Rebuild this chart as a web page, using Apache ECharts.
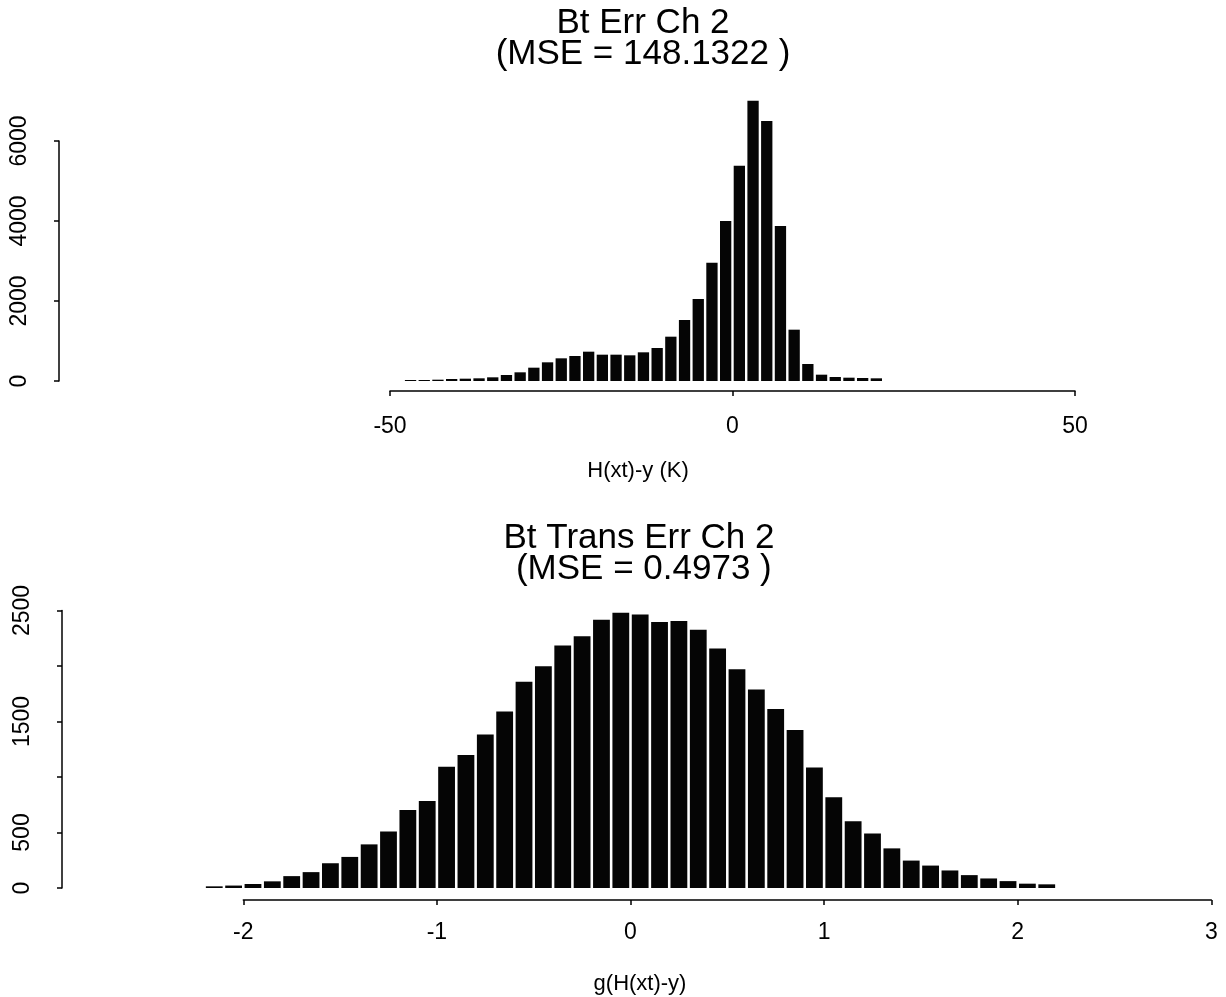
<!DOCTYPE html>
<html>
<head>
<meta charset="utf-8">
<script src="https://cdn.jsdelivr.net/npm/echarts@6/dist/echarts.min.js"></script>
<style>
html,body{margin:0;padding:0;background:#fff;}
#chart{width:1226px;height:997px;}
</style>
</head>
<body>
<div id="chart"></div>
<script>
// ---- Data ----
const topTitle = 'Bt Err Ch 2\n(MSE = 148.1322 )';
const topXName = 'H(xt)-y (K)';
const topBinCenters = [-47,-45,-43,-41,-39,-37,-35,-33,-31,-29,-27,-25,-23,-21,-19,-17,-15,-13,-11,-9,-7,-5,-3,-1,1,3,5,7,9,11,13,15,17,19,21];
const topCounts = [25,25,33,50,58,67,92,150,217,333,467,567,625,733,658,658,642,717,825,1108,1525,2050,2958,4000,5383,7008,6500,3875,1283,425,158,100,83,75,67];
const topXTicks = [-50, 0, 50];
const topYTicks = [0, 2000, 4000, 6000];

const botTitle = 'Bt Trans Err Ch 2\n (MSE = 0.4973 )';
const botXName = 'g(H(xt)-y)';
const botBinCenters = [-2.15,-2.05,-1.95,-1.85,-1.75,-1.65,-1.55,-1.45,-1.35,-1.25,-1.15,-1.05,-0.95,-0.85,-0.75,-0.65,-0.55,-0.45,-0.35,-0.25,-0.15,-0.05,0.05,0.15,0.25,0.35,0.45,0.55,0.65,0.75,0.85,0.95,1.05,1.15,1.25,1.35,1.45,1.55,1.65,1.75,1.85,1.95,2.05,2.15];
const botCounts = [15,22,36,60,107,143,223,280,393,509,702,783,1092,1199,1384,1589,1857,1997,2184,2268,2416,2479,2464,2396,2405,2327,2158,1970,1789,1613,1423,1086,818,601,491,357,247,202,158,116,86,62,39,33];
const botXTicks = [-2, -1, 0, 1, 2, 3];
const botYTickLabels = ['0', '500', '', '1500', '', '2500'];

// ---- Layout ----
const FONT = 'Liberation Sans, Arial, Helvetica, sans-serif';
// top panel
const T = {x0: 732.5, xs: 6.85, base: 381, ys: 0.04, xmin: -50, xmax: 50, ymax: 7200, yaxLeft: 59, yaxMax: 6000, axisOff: 10};
// bottom panel
const B = {x0: 630.5, xs: 193.6, base: 888, ys: 0.111, bxmin: -2.5, bxmax: 2.5, xmin: -2, xmax: 3, ymax: 2600, yaxLeft: 62, yaxMax: 2500, axisOff: 12};

function gridFor(x0, xs, xmin, xmax, base, ys, ymax) {
  const left = x0 + xmin * xs;
  const width = (xmax - xmin) * xs;
  const height = ymax * ys;
  return {left: left, width: width, top: base - height, height: height};
}

const grids = [
  gridFor(T.x0, T.xs, T.xmin, T.xmax, T.base, T.ys, T.ymax),          // 0 top bars + x axis
  {left: T.yaxLeft, width: 10, top: T.base - T.yaxMax * T.ys, height: T.yaxMax * T.ys}, // 1 top y axis
  gridFor(B.x0, B.xs, B.bxmin, B.bxmax, B.base, B.ys, B.ymax),        // 2 bottom bars
  gridFor(B.x0, B.xs, B.xmin, B.xmax, B.base, B.ys, B.ymax),          // 3 bottom x axis
  {left: B.yaxLeft, width: 10, top: B.base - B.yaxMax * B.ys, height: B.yaxMax * B.ys}  // 4 bottom y axis
];

const axisLineStyle = {color: '#000', width: 1.5};
const titleStyle = {fontFamily: FONT, fontWeight: 'normal', fontSize: 35, lineHeight: 31, color: '#000'};
const nameStyle = {fontFamily: FONT, fontWeight: 'normal', fontSize: 22, color: '#000'};

const option = {
  animation: false,
  backgroundColor: '#fff',
  title: [
    {text: topTitle, left: 638, top: 3, textAlign: 'center', textStyle: titleStyle},
    {text: botTitle, left: 634, top: 518, textAlign: 'center', textStyle: titleStyle},
    {text: topXName, left: 638, top: 460, textAlign: 'center', padding: 0, textStyle: nameStyle},
    {text: botXName, left: 640, top: 973, textAlign: 'center', padding: 0, textStyle: nameStyle}
  ],
  grid: grids,
  xAxis: [
    {gridIndex: 0, type: 'value', min: T.xmin, max: T.xmax, interval: 50, offset: T.axisOff,
     axisLine: {show: true, onZero: false, lineStyle: axisLineStyle},
     axisTick: {show: true, length: 5, lineStyle: axisLineStyle},
     axisLabel: {show: true, margin: 24, fontFamily: FONT, fontSize: 23, color: '#000',
       formatter: v => (topXTicks.indexOf(v) >= 0 ? String(v) : '')},
     splitLine: {show: false}},
    {gridIndex: 1, type: 'value', show: false},
    {gridIndex: 2, type: 'value', min: B.bxmin, max: B.bxmax, show: false},
    {gridIndex: 3, type: 'value', min: B.xmin, max: B.xmax, interval: 1, offset: B.axisOff,
     axisLine: {show: true, onZero: false, lineStyle: axisLineStyle},
     axisTick: {show: true, length: 5, lineStyle: axisLineStyle},
     axisLabel: {show: true, margin: 21, fontFamily: FONT, fontSize: 23, color: '#000',
       formatter: v => (botXTicks.indexOf(v) >= 0 ? String(v) : '')},
     splitLine: {show: false}},
    {gridIndex: 4, type: 'value', show: false}
  ],
  yAxis: [
    {gridIndex: 0, type: 'value', min: 0, max: T.ymax, show: false},
    {gridIndex: 1, type: 'value', min: 0, max: T.yaxMax, interval: 2000, position: 'left',
     axisLine: {show: true, lineStyle: axisLineStyle},
     axisTick: {show: true, length: 5, lineStyle: axisLineStyle},
     axisLabel: {show: true, rotate: 90, margin: 28, fontFamily: FONT, fontSize: 23, color: '#000',
       formatter: v => (topYTicks.indexOf(v) >= 0 ? String(v) : '')},
     splitLine: {show: false}},
    {gridIndex: 2, type: 'value', min: 0, max: B.ymax, show: false},
    {gridIndex: 3, type: 'value', min: 0, max: B.ymax, show: false},
    {gridIndex: 4, type: 'value', min: 0, max: B.yaxMax, interval: 500, position: 'left',
     axisLine: {show: true, lineStyle: axisLineStyle},
     axisTick: {show: true, length: 5, lineStyle: axisLineStyle},
     axisLabel: {show: true, rotate: 90, margin: 28, fontFamily: FONT, fontSize: 23, color: '#000',
       formatter: (v) => botYTickLabels[Math.round(v / 500)] || ''},
     splitLine: {show: false}}
  ],
  series: [
    {type: 'bar', xAxisIndex: 0, yAxisIndex: 0, barWidth: 11.3,
     itemStyle: {color: '#050505'},
     data: topBinCenters.map((c, i) => [c, topCounts[i]])},
    {type: 'bar', xAxisIndex: 2, yAxisIndex: 2, barWidth: 16.8,
     itemStyle: {color: '#050505'},
     data: botBinCenters.map((c, i) => [c, botCounts[i]])}
  ]
};

const chart = echarts.init(document.getElementById('chart'), null, {renderer: 'canvas'});
chart.setOption(option);
</script>
</body>
</html>
